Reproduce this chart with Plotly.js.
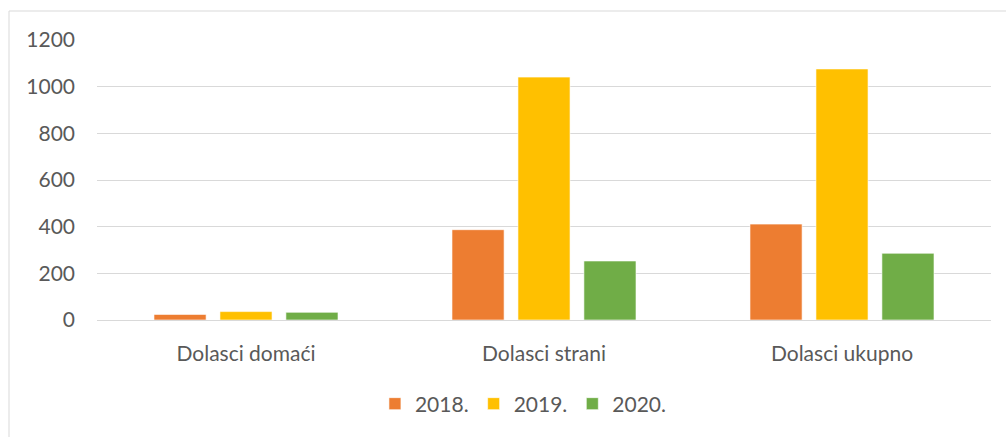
<!DOCTYPE html>
<html>
<head>
<meta charset="utf-8">
<script src="https://cdn.plot.ly/plotly-3.0.1.min.js"></script>
<style>
html,body{margin:0;padding:0;background:#fff;}
#chart{width:1006px;height:437px;}
</style>
</head>
<body>
<div id="chart"></div>
<script>
const categories = ["Dolasci domaći", "Dolasci strani", "Dolasci ukupno"];
const seriesNames = ["2018.", "2019.", "2020."];
const values2018 = [24, 387, 411];
const values2019 = [36, 1041, 1076];
const values2020 = [33, 253, 286];
const yTicks = [0, 200, 400, 600, 800, 1000, 1200];

const colors = ["#ED7D31", "#FFC000", "#70AD47"];
const seriesValues = [values2018, values2019, values2020];

const traces = seriesValues.map((vals, i) => ({
  type: "bar",
  name: seriesNames[i],
  x: categories,
  y: vals,
  marker: {color: colors[i], line: {color: "rgba(255,255,255,0.6)", width: 1}},
  hoverinfo: "x+y+name"
}));

const font = {family: "Lato, 'Open Sans', sans-serif", size: 21, color: "#595959"};

const layout = {
  width: 1006,
  height: 437,
  margin: {l: 97, r: 15, t: 40, b: 117},
  paper_bgcolor: "#ffffff",
  plot_bgcolor: "#ffffff",
  font: font,
  barmode: "group",
  bargap: 0.336,
  bargroupgap: 0.21,
  showlegend: true,
  legend: {
    orientation: "h",
    x: 0.477,
    xanchor: "center",
    y: -0.3,
    yanchor: "middle",
    font: font,
    itemclick: false
  },
  xaxis: {
    type: "category",
    showgrid: false,
    showline: true,
    linecolor: "#D9D9D9",
    linewidth: 1,
    ticks: "",
    ticklabelstandoff: 15,
    tickfont: font,
    fixedrange: true
  },
  yaxis: {
    range: [0, 1200],
    tickvals: yTicks,
    ticktext: yTicks.map(String),
    showgrid: true,
    gridcolor: "#D9D9D9",
    gridwidth: 1,
    zeroline: false,
    showline: false,
    ticks: "",
    ticklabelstandoff: 21,
    tickfont: font,
    fixedrange: true
  },
  shapes: [
    {type: "line", xref: "paper", yref: "paper", x0: (9 - 97) / 894, x1: (1006 - 97) / 894, y0: (320 - 11) / 280, y1: (320 - 11) / 280, line: {color: "#D9D9D9", width: 1}},
    {type: "line", xref: "paper", yref: "paper", x0: (9 - 97) / 894, x1: (9 - 97) / 894, y0: (320 - 11) / 280, y1: (320 - 437) / 280, line: {color: "#D9D9D9", width: 1}}
  ]
};

Plotly.newPlot("chart", traces, layout, {displayModeBar: false, staticPlot: true});
</script>
</body>
</html>
